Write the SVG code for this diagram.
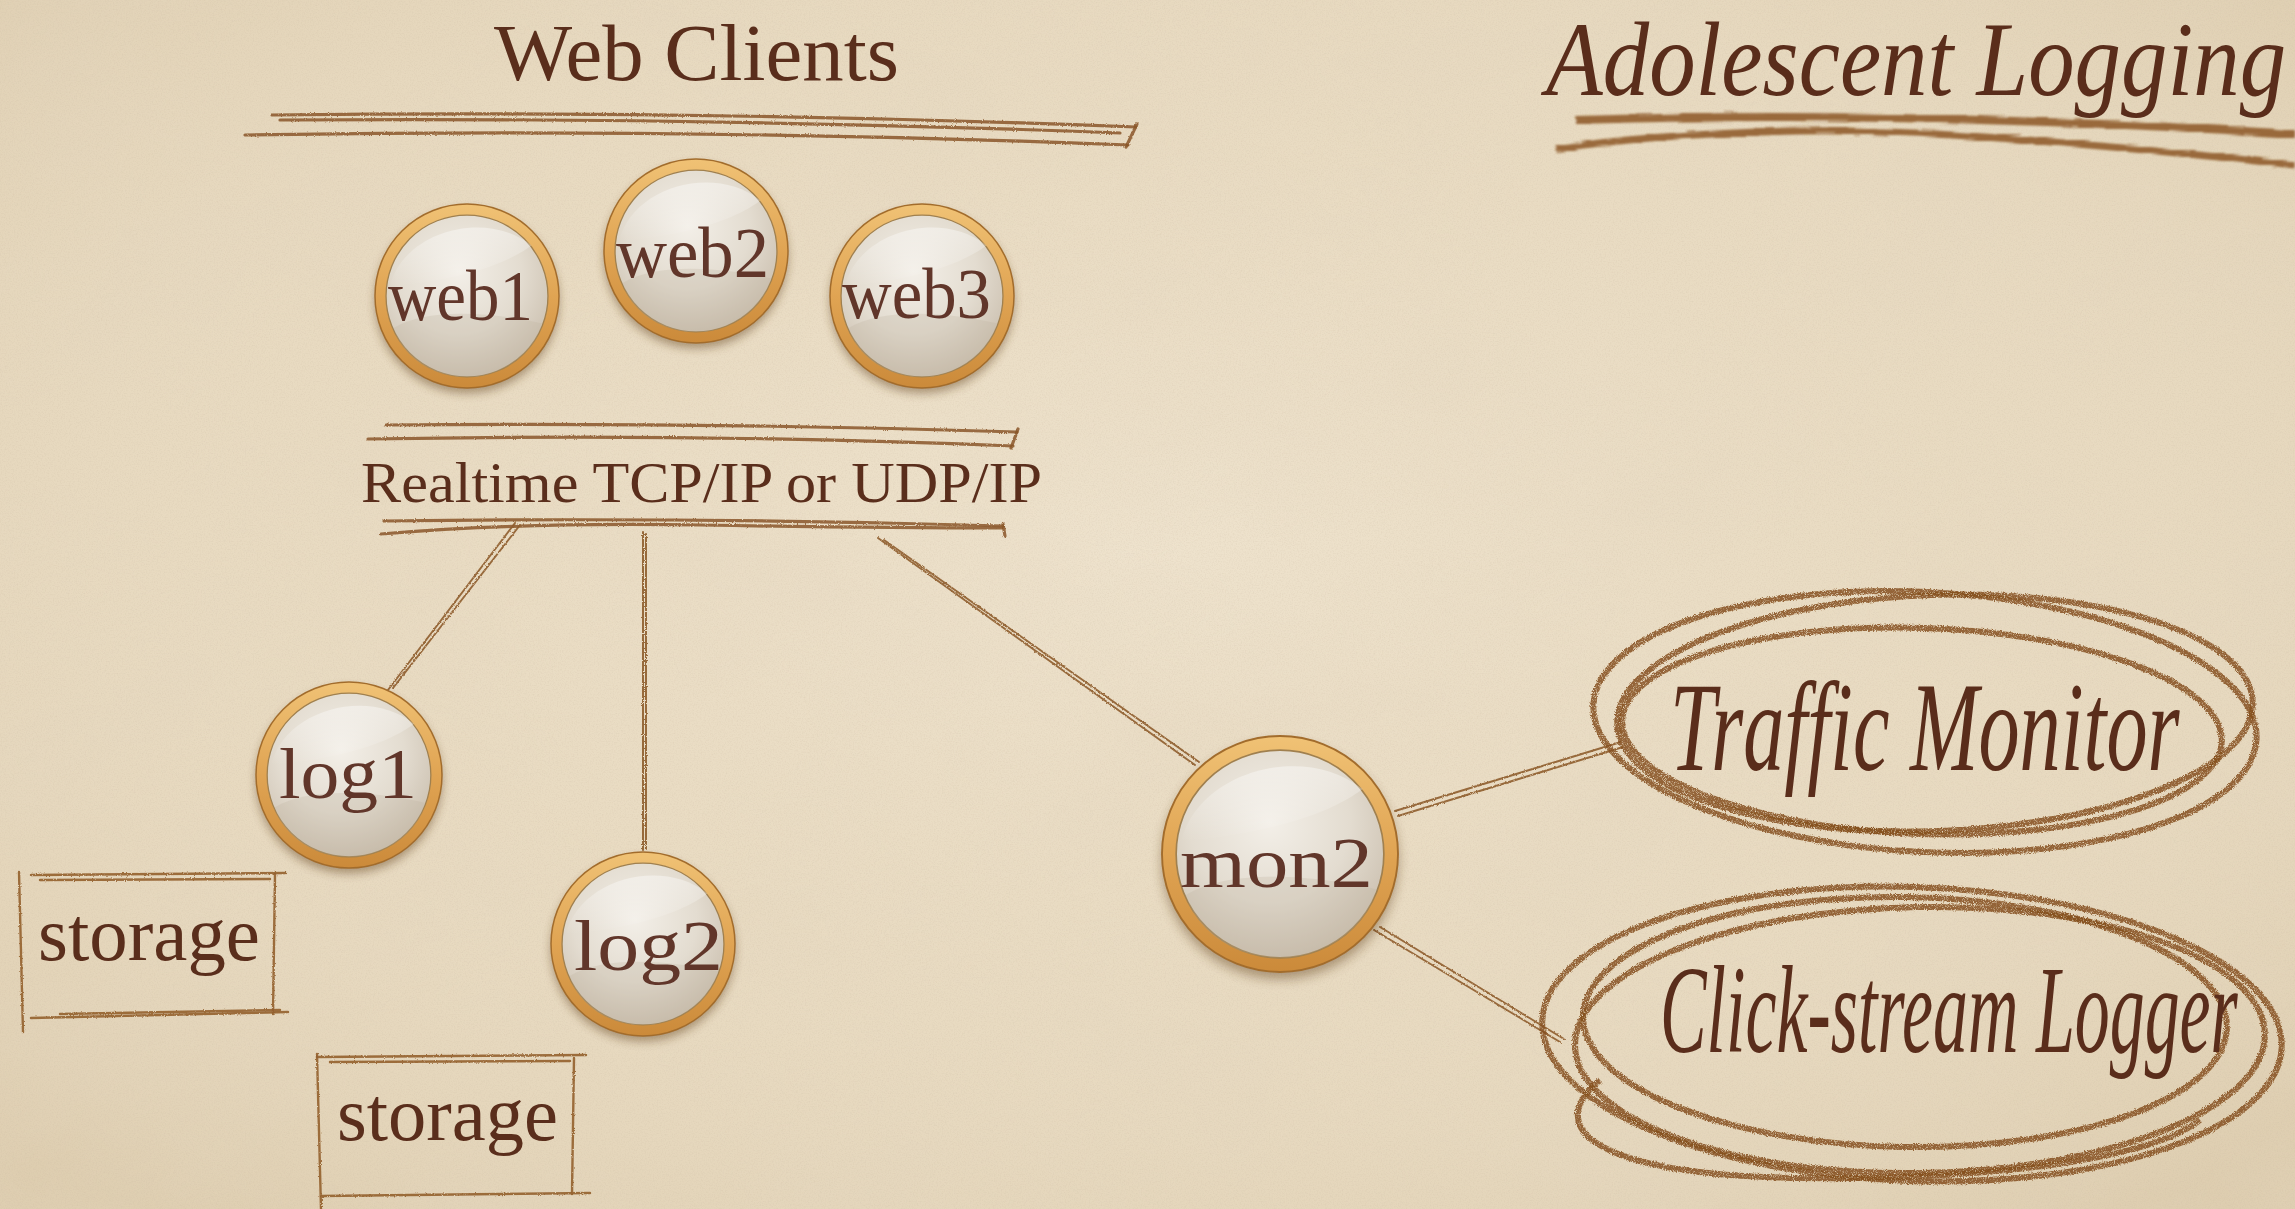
<svg xmlns="http://www.w3.org/2000/svg" width="2295" height="1209" viewBox="0 0 2295 1209">
<defs>
<style>
.hdr{font-family:"Liberation Serif","Times New Roman",serif;fill:#5a2e1c;}
.lbl{font-family:"Liberation Serif","Times New Roman",serif;fill:#61362a;font-size:72px;}
.script{font-family:"Liberation Serif","Times New Roman",serif;font-style:italic;fill:#5a2d1b;}
.pen{fill:none;stroke:#8a5628;stroke-width:3.2;stroke-linecap:round;opacity:.85;}
.thin{fill:none;stroke:#8e5c2c;stroke-width:2;stroke-linecap:round;opacity:.9;}
.crayon{fill:none;stroke:#85501f;stroke-width:6;opacity:.85;}
.box{fill:none;stroke:#93602f;stroke-width:2.4;stroke-linecap:round;opacity:.9;}
</style>
<radialGradient id="paperGlow" cx="50%" cy="45%" r="70%">
<stop offset="0" stop-color="#f1e6d2" stop-opacity=".75"/>
<stop offset=".6" stop-color="#ebdec6" stop-opacity=".25"/>
<stop offset="1" stop-color="#d8c6a6" stop-opacity=".6"/>
</radialGradient>
<filter id="grain" filterUnits="userSpaceOnUse" x="0" y="0" width="2295" height="1209">
<feTurbulence type="fractalNoise" baseFrequency="0.75" numOctaves="3" seed="3" result="n"/>
<feColorMatrix in="n" type="matrix" values="0 0 0 0 0.55  0 0 0 0 0.45  0 0 0 0 0.33  0.9 0 0 0 -0.38"/>
</filter>
<filter id="blotch" filterUnits="userSpaceOnUse" x="0" y="0" width="2295" height="1209">
<feTurbulence type="fractalNoise" baseFrequency="0.004 0.006" numOctaves="4" seed="11" result="n"/>
<feColorMatrix in="n" type="matrix" values="0 0 0 0 0.78  0 0 0 0 0.68  0 0 0 0 0.53  1.2 0 0 0 -0.45"/>
</filter>
<filter id="pencil" filterUnits="userSpaceOnUse" x="0" y="0" width="2295" height="1209">
<feTurbulence type="fractalNoise" baseFrequency="0.9" numOctaves="2" seed="5" result="t"/>
<feDisplacementMap in="SourceGraphic" in2="t" scale="2.5" xChannelSelector="R" yChannelSelector="G"/>
</filter>
<filter id="crayonF" filterUnits="userSpaceOnUse" x="0" y="0" width="2295" height="1209">
<feTurbulence type="fractalNoise" baseFrequency="1.1" numOctaves="2" seed="2" result="t"/>
<feDisplacementMap in="SourceGraphic" in2="t" scale="4" xChannelSelector="R" yChannelSelector="G" result="d"/>
<feColorMatrix in="t" type="matrix" values="0 0 0 0 0  0 0 0 0 0  0 0 0 0 0  3 0 0 0 -0.45" result="m"/>
<feComposite in="d" in2="m" operator="in"/>
</filter>
<filter id="smear" filterUnits="userSpaceOnUse" x="0" y="0" width="2295" height="1209">
<feTurbulence type="fractalNoise" baseFrequency="0.02 0.9" numOctaves="2" seed="7" result="t"/>
<feDisplacementMap in="SourceGraphic" in2="t" scale="5" xChannelSelector="R" yChannelSelector="G" result="d"/>
<feGaussianBlur in="d" stdDeviation="0.8"/>
</filter>
<filter id="soft" x="-30%" y="-30%" width="160%" height="160%">
<feGaussianBlur stdDeviation="5"/>
</filter>
<linearGradient id="ringG" x1="0" y1="0" x2="0" y2="1">
<stop offset="0" stop-color="#f0c275"/>
<stop offset=".5" stop-color="#e0a453"/>
<stop offset="1" stop-color="#cb8a3a"/>
</linearGradient>
<radialGradient id="discG" cx="45%" cy="35%" r="70%">
<stop offset="0" stop-color="#f3efe8"/>
<stop offset=".55" stop-color="#e3dcd0"/>
<stop offset="1" stop-color="#c8bcab"/>
</radialGradient>
<linearGradient id="glossG" x1="0" y1="0" x2="0" y2="1">
<stop offset="0" stop-color="#ffffff" stop-opacity=".75"/>
<stop offset="1" stop-color="#ffffff" stop-opacity="0"/>
</linearGradient>
<g id="bead">
<circle cx="0" cy="6" r="100" fill="#5b3b18" opacity=".45" filter="url(#soft)"/>
<circle r="100" fill="url(#ringG)" stroke="#a26c2c" stroke-width="1.6"/>
<circle r="88" fill="url(#discG)" stroke="#a0804f" stroke-width="1.4"/>
<path d="M-84,-10 C-70,-70 20,-95 70,-55 C50,-40 10,-20 -84,-10 Z" fill="url(#glossG)" opacity=".55"/>
<path d="M-80,35 C-40,10 40,20 82,30 C70,70 30,88 0,88 C-40,88 -70,65 -80,35 Z" fill="#bdb09a" opacity=".25"/>
</g>
</defs>

<g id="background">
<rect width="2295" height="1209" fill="#e7d9bf"/>
<rect width="2295" height="1209" fill="url(#paperGlow)"/>
<rect width="2295" height="1209" filter="url(#blotch)" opacity=".5"/>
<rect width="2295" height="1209" filter="url(#grain)" opacity=".45"/>
</g>

<g id="headers">
<text class="hdr" x="494" y="80" font-size="80" textLength="405" lengthAdjust="spacingAndGlyphs">Web Clients</text>
<g filter="url(#pencil)">
<path class="pen" d="M272,115 Q700,110 1136,127"/>
<path class="pen" d="M280,120 Q700,117 1120,133" opacity=".5"/>
<path class="pen" d="M245,135 Q700,128 1128,145"/>
<path class="pen" d="M1137,124 L1126,147"/>
</g>
<g filter="url(#pencil)">
<path class="pen" d="M386,425 Q700,422 1017,432"/>
<path class="pen" d="M368,439 Q700,433 1013,446"/>
<path class="pen" d="M1018,429 L1011,448"/>
</g>
<text class="hdr" x="361" y="502" font-size="58" textLength="681" lengthAdjust="spacingAndGlyphs">Realtime TCP/IP or UDP/IP</text>
<g filter="url(#pencil)">
<path class="pen" d="M384,521 Q700,517 1003,526"/>
<path class="pen" d="M381,534 Q520,522 700,525 T1002,528"/>
<path class="pen" d="M1003,524 L1005,536"/>
</g>
</g>

<g id="title">
<g filter="url(#smear)" opacity=".8">
<path d="M1576,120 Q1900,110 2295,134" fill="none" stroke="#87501f" stroke-width="8"/>
<path d="M1556,149 Q1650,134 1800,131 T2295,165" fill="none" stroke="#87501f" stroke-width="7"/>
</g>
<text class="script" transform="translate(1546,95) scale(0.88,1)" font-size="105" textLength="841" lengthAdjust="spacingAndGlyphs">Adolescent Logging</text>
</g>

<g id="connectors" filter="url(#pencil)">
<path class="thin" d="M515,523 L388,690"/>
<path class="thin" d="M520,525 L393,688"/>
<path class="thin" d="M643,532 L643,850"/>
<path class="thin" d="M646,534 L646,849"/>
<path class="thin" d="M878,538 L1195,765"/>
<path class="thin" d="M884,540 L1199,762"/>
<path class="thin" d="M1395,811 L1621,742"/>
<path class="thin" d="M1398,816 L1623,747"/>
<path class="thin" d="M1374,930 L1560,1042"/>
<path class="thin" d="M1380,927 L1564,1039"/>
</g>

<g id="web1"><use href="#bead" transform="translate(467,296) scale(0.92)"/><text class="lbl" x="388" y="320" textLength="145" lengthAdjust="spacingAndGlyphs">web1</text></g>
<g id="web2"><use href="#bead" transform="translate(696,251) scale(0.92)"/><text class="lbl" x="616" y="277" textLength="153" lengthAdjust="spacingAndGlyphs">web2</text></g>
<g id="web3"><use href="#bead" transform="translate(922,296) scale(0.92)"/><text class="lbl" x="842" y="318" textLength="149" lengthAdjust="spacingAndGlyphs">web3</text></g>
<g id="log1"><use href="#bead" transform="translate(349,775) scale(0.93)"/><text class="lbl" x="279" y="798" textLength="138" lengthAdjust="spacingAndGlyphs">log1</text></g>
<g id="log2"><use href="#bead" transform="translate(643,944) scale(0.92)"/><text class="lbl" x="574" y="970" textLength="149" lengthAdjust="spacingAndGlyphs">log2</text></g>
<g id="mon2"><use href="#bead" transform="translate(1280,854) scale(1.18)"/><text class="lbl" x="1180" y="887" font-size="80" textLength="193" lengthAdjust="spacingAndGlyphs">mon2</text></g>

<g id="storage1">
<g filter="url(#pencil)">
<path class="box" d="M31,875 L286,873"/>
<path class="box" d="M40,880 L270,879" opacity=".4"/>
<path class="box" d="M19,872 L23,1032"/>
<path class="box" d="M275,874 L273,1014"/>
<path class="box" d="M31,1018 L288,1012"/>
<path class="box" d="M60,1014 L280,1010" opacity=".5"/>
</g>
<text class="hdr" x="38" y="960" font-size="77" textLength="222" lengthAdjust="spacingAndGlyphs">storage</text>
</g>
<g id="storage2">
<g filter="url(#pencil)">
<path class="box" d="M317,1057 L586,1055"/>
<path class="box" d="M330,1062 L570,1061" opacity=".4"/>
<path class="box" d="M317,1054 L321,1209"/>
<path class="box" d="M574,1058 L572,1194"/>
<path class="box" d="M321,1196 L590,1193"/>
</g>
<text class="hdr" x="337" y="1140" font-size="77" textLength="221" lengthAdjust="spacingAndGlyphs">storage</text>
</g>

<g id="traffic-monitor">
<g filter="url(#crayonF)">
<ellipse class="crayon" cx="1925" cy="722" rx="332" ry="130" transform="rotate(3 1925 722)"/>
<ellipse class="crayon" cx="1922" cy="731" rx="300" ry="103" transform="rotate(2 1922 731)"/>
<ellipse class="crayon" cx="1935" cy="713" rx="318" ry="118" transform="rotate(-2 1935 713)" opacity=".45"/>
</g>
<text class="script" transform="translate(1670,770) scale(0.637,1)" font-size="128" textLength="800" lengthAdjust="spacingAndGlyphs">Traffic Monitor</text>
</g>

<g id="clickstream-logger">
<g filter="url(#crayonF)">
<ellipse class="crayon" cx="1912" cy="1034" rx="370" ry="147" transform="rotate(2 1912 1034)"/>
<ellipse class="crayon" cx="1905" cy="1022" rx="322" ry="125" transform="rotate(1 1905 1022)"/>
<ellipse class="crayon" cx="1920" cy="1040" rx="345" ry="133" transform="rotate(-1 1920 1040)" opacity=".55"/>
<path class="crayon" d="M1600,1080 C1540,1130 1600,1175 1800,1178 C1990,1180 2150,1160 2200,1120" opacity=".5"/>
</g>
<text class="script" transform="translate(1660,1052) scale(0.561,1)" font-size="124" textLength="1030" lengthAdjust="spacingAndGlyphs">Click-stream Logger</text>
</g>
</svg>
